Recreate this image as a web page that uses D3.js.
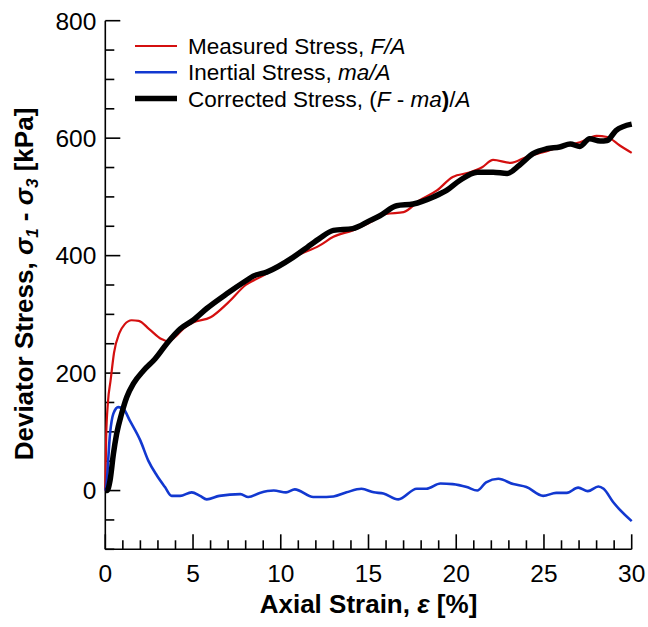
<!DOCTYPE html>
<html>
<head>
<meta charset="utf-8">
<script src="https://cdn.jsdelivr.net/npm/d3@7"></script>
<style>
  body { margin: 0; background: #fff; }
  svg { display: block; font-family: "Liberation Sans", Arial, sans-serif; }
</style>
</head>
<body>
<svg width="648" height="627"></svg>
<script>
// Axial strain [%] vs stress [kPa]
const measuredStrain = [0, 0.05, 0.15, 0.3, 0.5, 0.8, 1.1, 1.5, 1.9, 2.5, 3.2, 3.6, 4.0, 4.5, 5.0, 6.0, 7.0, 8.0, 9.0, 10.0, 11.0, 12.2, 13.0, 14.1, 15.0, 16.0, 17.0, 17.9, 18.9, 19.8, 20.8, 21.5, 22.1, 23.1, 24.0, 24.95, 25.9, 27.05, 28.0, 28.6, 29.3, 30.0];
const measuredStress = [0, 91, 150, 187, 235, 268, 283, 290, 289, 275, 258, 254, 262, 277, 286, 295, 320, 350, 366, 385, 401, 417, 432, 443, 455, 471, 474, 494, 511, 534, 542, 551, 563, 558, 568, 576, 585, 593, 604, 602, 588, 575];

const inertialStrain = [0, 0.05, 0.27, 0.46, 0.74, 1.03, 1.4, 2.0, 2.45, 2.93, 3.4, 3.78, 4.26, 4.92, 5.4, 5.78, 6.5, 7.7, 8.15, 8.8, 9.6, 10.3, 10.8, 11.85, 12.2, 13.0, 13.75, 14.6, 15.3, 15.85, 16.7, 17.75, 18.3, 19.1, 19.8, 20.6, 21.2, 21.7, 22.4, 23.25, 24.0, 24.95, 25.7, 26.3, 26.95, 27.5, 28.1, 28.4, 28.95, 30.0];
const inertialStress = [0, 6, 97, 131, 142, 139, 119, 85, 51, 26, 6, -9, -9, -3, -9, -15, -9, -6, -11, -4, 0, -3, 2, -11, -11, -10, -3, 3, -3, -5, -15, 3, 3, 12, 11, 6, 0, 14, 20, 11, 6, -9, -4, -4, 5, -1, 7, 3, -20, -52];

const correctedStrain = [0, 0.1, 0.27, 0.46, 0.65, 0.93, 1.22, 1.6, 2.17, 2.83, 3.5, 4.26, 5.0, 5.78, 6.92, 8.06, 8.43, 9.2, 10.7, 11.5, 12.2, 13.0, 14.1, 15.1, 15.65, 16.6, 17.55, 18.7, 19.45, 20.2, 21.2, 22.1, 22.9, 23.6, 24.4, 25.15, 25.9, 26.5, 27.05, 27.6, 28.2, 28.6, 29.1, 30.0];
const correctedStress = [0, 0, 17, 62, 97, 131, 159, 182, 204, 224, 250, 275, 290, 310, 335, 358, 365, 372, 397, 414, 429, 443, 446, 460, 468, 485, 488, 500, 511, 528, 542, 542, 540, 554, 574, 582, 585, 590, 586, 599, 595, 596, 613, 624];

const xTicks = [0, 5, 10, 15, 20, 25, 30];
const yTicks = [0, 200, 400, 600, 800];

const svg = d3.select('svg');
const plotLeft = 105.3, plotRight = 631.7, plotTop = 20.7, plotBottom = 549.3;

const x = d3.scaleLinear().domain([0, 30]).range([plotLeft, plotRight]);
const y = d3.scaleLinear().domain([-100, 800]).range([plotBottom, plotTop]);

//  Axes (ticks point inward, no frame on top/right)
const axes = svg.append('g').attr('stroke', '#000').attr('stroke-width', 1.6);

axes.append('line').attr('x1', plotLeft).attr('x2', plotLeft).attr('y1', plotTop).attr('y2', plotBottom);
axes.append('line').attr('x1', plotLeft).attr('x2', plotRight).attr('y1', plotBottom).attr('y2', plotBottom);

d3.range(-100, 801, 50).forEach(v => {
    const major = v % 200 === 0;
    axes.append('line')
        .attr('x1', plotLeft).attr('x2', plotLeft + (major ? 15 : 9))
        .attr('y1', y(v)).attr('y2', y(v));
});
d3.range(0, 31, 1).forEach(v => {
    const major = v % 5 === 0;
    axes.append('line')
        .attr('x1', x(v)).attr('x2', x(v))
        .attr('y1', plotBottom).attr('y2', plotBottom - (major ? 15 : 9));
});

svg.append('g').selectAll('text').data(yTicks).join('text')
    .attr('x', plotLeft - 9).attr('y', d => y(d))
    .attr('dy', '0.36em')
    .attr('text-anchor', 'end')
    .attr('font-size', 24.5)
    .text(d => d);

svg.append('g').selectAll('text').data(xTicks).join('text')
    .attr('x', d => x(d)).attr('y', 582)
    .attr('text-anchor', 'middle')
    .attr('font-size', 24.5)
    .text(d => d);

//  Axis titles
const xTitle = svg.append('text')
    .attr('x', (plotLeft + plotRight) / 2).attr('y', 613)
    .attr('text-anchor', 'middle')
    .attr('font-size', 26).attr('font-weight', 'bold');
xTitle.append('tspan').text('Axial Strain, ');
xTitle.append('tspan').attr('font-style', 'italic').text('ε');
xTitle.append('tspan').text(' [%]');

const yTitle = svg.append('text')
    .attr('transform', `translate(33, 284) rotate(-90)`)
    .attr('text-anchor', 'middle')
    .attr('font-size', 26).attr('font-weight', 'bold');
yTitle.append('tspan').text('Deviator Stress, ');
yTitle.append('tspan').attr('font-style', 'italic').text('σ');
yTitle.append('tspan').attr('font-style', 'italic').attr('font-size', 17).attr('dy', 5).text('1');
yTitle.append('tspan').attr('dy', -5).text(' - ');
yTitle.append('tspan').attr('font-style', 'italic').text('σ');
yTitle.append('tspan').attr('font-style', 'italic').attr('font-size', 17).attr('dy', 5).text('3');
yTitle.append('tspan').attr('dy', -5).text(' [kPa]');

//  Curves
const line = d3.line().x(d => x(d[0])).y(d => y(d[1])).curve(d3.curveMonotoneX);

const series = [
    { xs: measuredStrain, ys: measuredStress, color: '#d40f0f', width: 2.2 },
    { xs: inertialStrain, ys: inertialStress, color: '#1238d0', width: 2.6 },
    { xs: correctedStrain, ys: correctedStress, color: '#000', width: 5.5 }
];
series.forEach(s => {
    svg.append('path')
        .attr('d', line(d3.zip(s.xs, s.ys)))
        .attr('fill', 'none')
        .attr('stroke', s.color)
        .attr('stroke-width', s.width)
        .attr('stroke-linejoin', 'round');
});

//  Legend
const legend = svg.append('g').attr('font-size', 22.5);
const rows = [
    { color: '#d40f0f', width: 2.2, parts: [['Measured Stress, ', 'normal'], ['F/A', 'italic']] },
    { color: '#1238d0', width: 2.6, parts: [['Inertial Stress, ', 'normal'], ['ma/A', 'italic']] },
    { color: '#000', width: 5.5, parts: [['Corrected Stress, (', 'normal'], ['F', 'italic'], [' - ', 'normal'], ['ma', 'italic'], [')', 'bold'], ['/', 'normal'], ['A', 'italic']] }
];
rows.forEach((r, i) => {
    const cy = 46 + i * 26.2;
    legend.append('line')
        .attr('x1', 135).attr('x2', 177).attr('y1', cy).attr('y2', cy)
        .attr('stroke', r.color).attr('stroke-width', r.width);
    const t = legend.append('text').attr('x', 188).attr('y', cy).attr('dy', '0.36em');
    r.parts.forEach(p => {
        const ts = t.append('tspan').text(p[0]);
        if (p[1] === 'italic') ts.attr('font-style', 'italic');
        if (p[1] === 'bold') ts.attr('font-weight', 'bold');
    });
});
</script>
</body>
</html>
